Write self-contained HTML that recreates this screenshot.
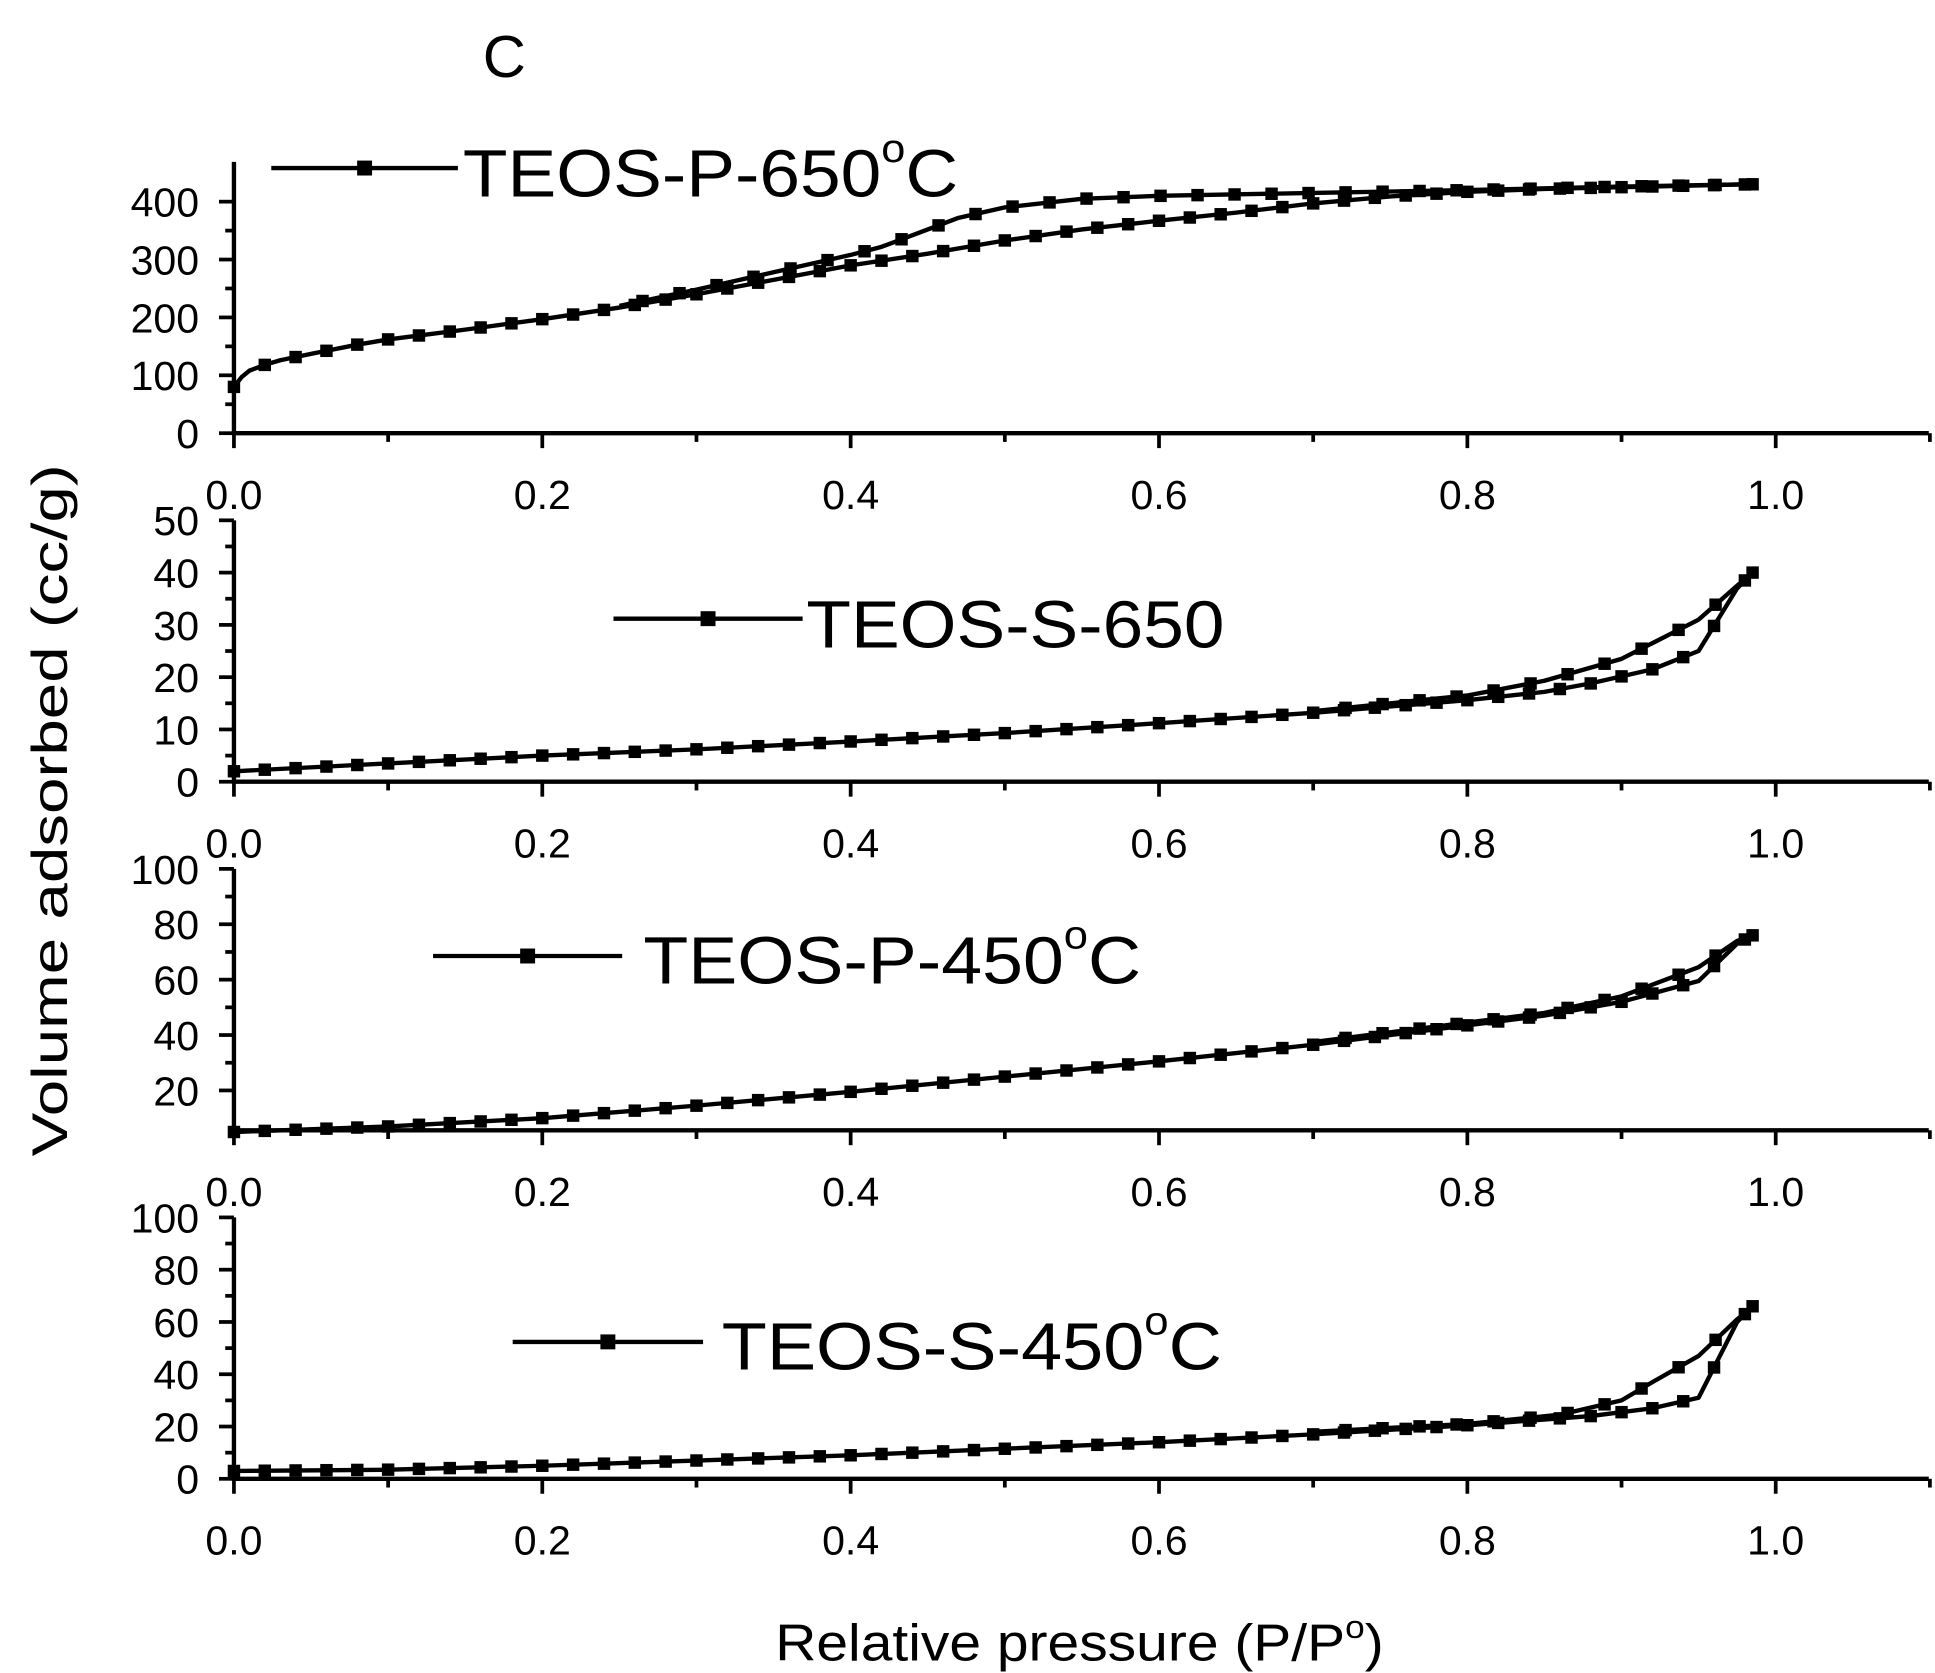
<!DOCTYPE html>
<html><head><meta charset="utf-8"><style>
html,body{margin:0;padding:0;background:#fff}
svg{display:block}
text{font-family:"Liberation Sans",Arial,sans-serif;fill:#000}
</style></head><body>
<svg id="s" width="1935" height="1673" viewBox="0 0 1555 1344" preserveAspectRatio="none" xmlns="http://www.w3.org/2000/svg">
<text x="388" y="62" font-size="48">C</text>
<text x="623" y="1334" font-size="42" textLength="489" lengthAdjust="spacingAndGlyphs">Relative pressure (P/P<tspan font-size="26" dy="-18">o</tspan><tspan dy="18">)</tspan></text>
<text transform="translate(54,651) rotate(-90)" font-size="40" text-anchor="middle" textLength="556" lengthAdjust="spacingAndGlyphs">Volume adsorbed (cc/g)</text>
<g id="g"></g>
</svg>
<script>
const g=document.getElementById('g');let h='';
const X0=188,X1=1427,XE=1550;const sx=p=>X0+p*(X1-X0);
const panels=[
{base:348,top:130,ymin:0,ymax:400,ytop:162,ticks:[0,100,200,300,400],minor:50,
ads:[[0,80],[0.005,97],[0.01,108],[0.02,118],[0.03,126],[0.05,137],[0.08,153],[0.1,162],[0.15,179],[0.2,197],[0.25,217],[0.3,240],[0.35,265],[0.4,290],[0.45,310],[0.5,333],[0.55,352],[0.6,367],[0.65,381],[0.7,397],[0.75,409],[0.8,417],[0.85,422],[0.9,425],[0.95,428],[0.985,430]],
des:[[0.985,430],[0.9,426],[0.8,420],[0.7,415],[0.6,410],[0.55,405],[0.5,390],[0.47,372],[0.45,352],[0.42,322],[0.4,308],[0.35,278],[0.3,248],[0.25,220]],
leg:[218,368,135,372,158,'TEOS-P-650','°C',398]},
{base:628,top:418,ymin:0,ymax:50,ytop:418,ticks:[0,10,20,30,40,50],minor:5,
ads:[[0,2],[0.1,3.5],[0.2,5],[0.3,6.2],[0.4,7.7],[0.5,9.3],[0.6,11.2],[0.7,13.2],[0.8,15.6],[0.85,17.2],[0.88,18.8],[0.92,21.5],[0.95,25],[0.975,37],[0.985,40]],
des:[[0.985,40],[0.975,37.5],[0.95,31],[0.9,23.5],[0.85,19.3],[0.8,16.5],[0.7,13.5]],
leg:[493,645,497,648,520,'TEOS-S-650','',336]},
{base:908,top:698,ymin:5,ymax:100,ytop:698,y0:920.5,ticks:[20,40,60,80,100],minor:10,
ads:[[0,5],[0.1,7],[0.2,10],[0.3,14.5],[0.4,19.5],[0.5,25],[0.6,30.5],[0.7,36.5],[0.8,43.5],[0.85,47],[0.9,52],[0.95,59.5],[0.975,73],[0.985,76]],
des:[[0.985,76],[0.975,74],[0.95,64.5],[0.9,54],[0.85,48],[0.8,44.5],[0.7,37.5]],
leg:[348,500,768,517,790,'TEOS-P-450','°C',400]},
{base:1188,top:978,ymin:0,ymax:100,ytop:978,ticks:[0,20,40,60,80,100],minor:10,
ads:[[0,3],[0.1,3.5],[0.2,5],[0.3,7],[0.4,9],[0.5,11.5],[0.6,14],[0.7,17],[0.8,20.5],[0.88,24],[0.92,27],[0.95,31],[0.975,60],[0.985,66]],
des:[[0.985,66],[0.975,61],[0.95,47],[0.92,37],[0.9,30],[0.86,24.5],[0.8,21],[0.7,18]],
leg:[412,565,1078,580,1100,'TEOS-S-450','°C',402]}
];
function interp(pts,p){for(let i=0;i<pts.length-1;i++){let a=pts[i],b=pts[i+1];let lo=Math.min(a[0],b[0]),hi=Math.max(a[0],b[0]);if(p>=lo&&p<=hi){let t=(p-a[0])/(b[0]-a[0]||1);return a[1]+t*(b[1]-a[1]);}}return null;}
panels.forEach(P=>{
 const y0=P.y0!==undefined?P.y0:P.base;
 const k=(y0-P.ytop)/(P.ymax-(P.y0!==undefined?0:P.ymin));
 const sy=v=>y0-v*k;
 h+=`<path d="M${X0},${P.top}V${P.base}H${XE}" fill="none" stroke="#000" stroke-width="3.5"/>`;
 for(let i=0;i<=11;i++){let x=sx(i/10);h+=`<line x1="${x}" y1="${P.base}" x2="${x}" y2="${P.base+(i%2?7:12)}" stroke="#000" stroke-width="3"/>`;
  if(i%2==0&&i<=10)h+=`<text x="${x}" y="${P.base+61}" font-size="33" text-anchor="middle">${(i/10).toFixed(1)}</text>`;}
 P.ticks.forEach(v=>{let y=sy(v);h+=`<line x1="${X0-12}" y1="${y}" x2="${X0}" y2="${y}" stroke="#000" stroke-width="3"/><text x="${X0-28}" y="${y+12}" font-size="33" text-anchor="end">${v}</text>`;});
 for(let v=P.ticks[0]+P.minor;v<P.ymax;v+=P.minor*2){let y=sy(v);h+=`<line x1="${X0-7}" y1="${y}" x2="${X0}" y2="${y}" stroke="#000" stroke-width="3"/>`;}
 [P.ads,P.des].forEach((c,j)=>{
  let d='M'+c.map(q=>sx(q[0]).toFixed(1)+','+sy(q[1]).toFixed(1)).join('L');
  h+=`<path d="${d}" fill="none" stroke="#000" stroke-width="3.5" stroke-linejoin="round"/>`;
  let lo=Math.min(...c.map(q=>q[0])),hi=Math.max(...c.map(q=>q[0]));
  let step=j==0?0.02:0.024;
  for(let p=(j==0?lo:hi);j==0?p<=hi+1e-6:p>=lo-1e-6;p+=j==0?step:-step){let v=interp(c,p);if(v==null)continue;
   h+=`<rect x="${sx(p)-5}" y="${sy(v)-5}" width="10" height="10" fill="#000"/>`;}
 });
 const L=P.leg;
 h+=`<line x1="${L[0]}" y1="${L[2]}" x2="${L[1]}" y2="${L[2]}" stroke="#000" stroke-width="3.5"/><rect x="${(L[0]+L[1])/2-6}" y="${L[2]-6}" width="12" height="12" fill="#000"/>`;
 h+=`<text x="${L[3]}" y="${L[4]}" font-size="54" textLength="${L[7]}" lengthAdjust="spacingAndGlyphs">${L[5]}${L[6]?`<tspan font-size="32" dy="-28">o</tspan><tspan dy="28">C</tspan>`:''}</text>`;
});
g.innerHTML=h;
</script>
</body></html>
